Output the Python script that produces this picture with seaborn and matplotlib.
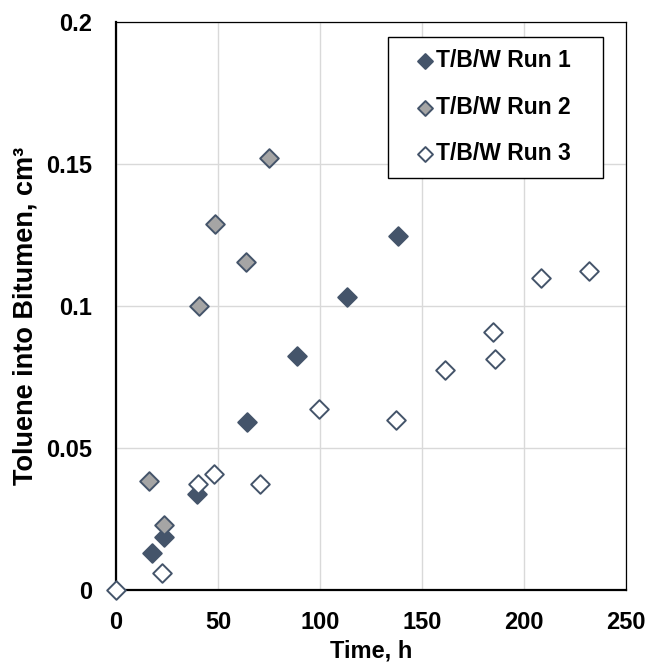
#!/usr/bin/env python3
"""Toluene transfer into bitumen vs time, three T/B/W runs."""

import numpy as np
import pandas as pd
import matplotlib
matplotlib.use("Agg")
import matplotlib.pyplot as plt
import seaborn as sns
from matplotlib.ticker import MultipleLocator, FuncFormatter

# Data
run1_time = [17.8, 23.5, 39.5, 64.4, 88.6, 113.4, 138.1]
run1_tol = [0.0129, 0.0187, 0.0337, 0.0591, 0.0823, 0.1032, 0.1245]

run2_time = [16.2, 23.5, 40.8, 48.5, 63.7, 75.0]
run2_tol = [0.0384, 0.0230, 0.1001, 0.1289, 0.1155, 0.1521]

run3_time = [0.0, 22.7, 40.2, 47.9, 70.7, 99.7, 137.3, 161.1, 185.0, 185.9, 208.2, 232.0]
run3_tol = [0.0, 0.0059, 0.0375, 0.0410, 0.0372, 0.0638, 0.0597, 0.0775, 0.0908, 0.0812, 0.1099, 0.1122]

run_labels = ["T/B/W Run 1", "T/B/W Run 2", "T/B/W Run 3"]
run_fills = ["#44546A", "#A5A5A5", "white"]
EDGE = "#44546A"

sns.set_style("white")
plt.rcParams['font.family'] = ['Liberation Sans', 'DejaVu Sans']
plt.rcParams['font.weight'] = 'bold'
plt.rcParams['text.color'] = 'black'
plt.rcParams['axes.labelcolor'] = 'black'

fig = plt.figure(figsize=(6.5, 6.62), dpi=100)
ax = fig.add_axes([116 / 650, 72 / 662, 510 / 650, 568 / 662])

runs = [(run1_time, run1_tol), (run2_time, run2_tol), (run3_time, run3_tol)]
for (t, v), lab, fc in zip(runs, run_labels, run_fills):
    df = pd.DataFrame({'time': t, 'tol': v})
    sns.scatterplot(data=df, x='time', y='tol', ax=ax, marker='D', s=90,
                    color=fc, edgecolor=EDGE, linewidth=1.4, label=lab + "   ",
                    clip_on=False, zorder=4)

ax.set_xlim(0, 250)
ax.set_ylim(0, 0.2)
ax.xaxis.set_major_locator(MultipleLocator(50))
ax.xaxis.set_minor_locator(MultipleLocator(10))
ax.yaxis.set_major_locator(MultipleLocator(0.05))
ax.yaxis.set_minor_locator(MultipleLocator(0.01))
ax.yaxis.set_major_formatter(FuncFormatter(lambda v, p: f"{v:g}"))

ax.grid(True, which='major', color='#d9d9d9', linewidth=1.0, zorder=0)
ax.set_axisbelow(True)

ax.tick_params(axis='both', which='both', direction='in', labelsize=17,
               colors='black', width=1.3)
ax.tick_params(axis='x', which='both', pad=15)
ax.tick_params(axis='y', which='both', pad=17)
ax.tick_params(axis='x', which='major', length=5.6)
ax.tick_params(axis='x', which='minor', length=4.2)
ax.tick_params(axis='y', which='major', length=0)
ax.tick_params(axis='y', which='minor', length=3.4)

for side in ['left', 'bottom']:
    ax.spines[side].set_linewidth(1.6)
    ax.spines[side].set_color('black')
for side in ['top', 'right']:
    ax.spines[side].set_linewidth(0.9)
    ax.spines[side].set_color('black')
    ax.spines[side].set_visible(True)

ax.set_xlabel("Time, h", fontsize=17, fontweight='bold', labelpad=4)
ax.set_ylabel("Toluene into Bitumen, cm³", fontsize=19.5, fontweight='bold')
ax.yaxis.set_label_coords(-0.152, 0.482)

leg = ax.legend(loc='upper right', bbox_to_anchor=(0.955, 0.974), borderaxespad=0,
                frameon=True, fancybox=False, edgecolor='black', framealpha=1,
                prop={'size': 16.5, 'weight': 'bold'}, handlelength=2.1,
                handletextpad=-0.55, labelspacing=1.02, markerscale=0.8,
                borderpad=0.55)
leg.get_frame().set_linewidth(1.0)

plt.savefig('out.png', dpi=100)
plt.close()
